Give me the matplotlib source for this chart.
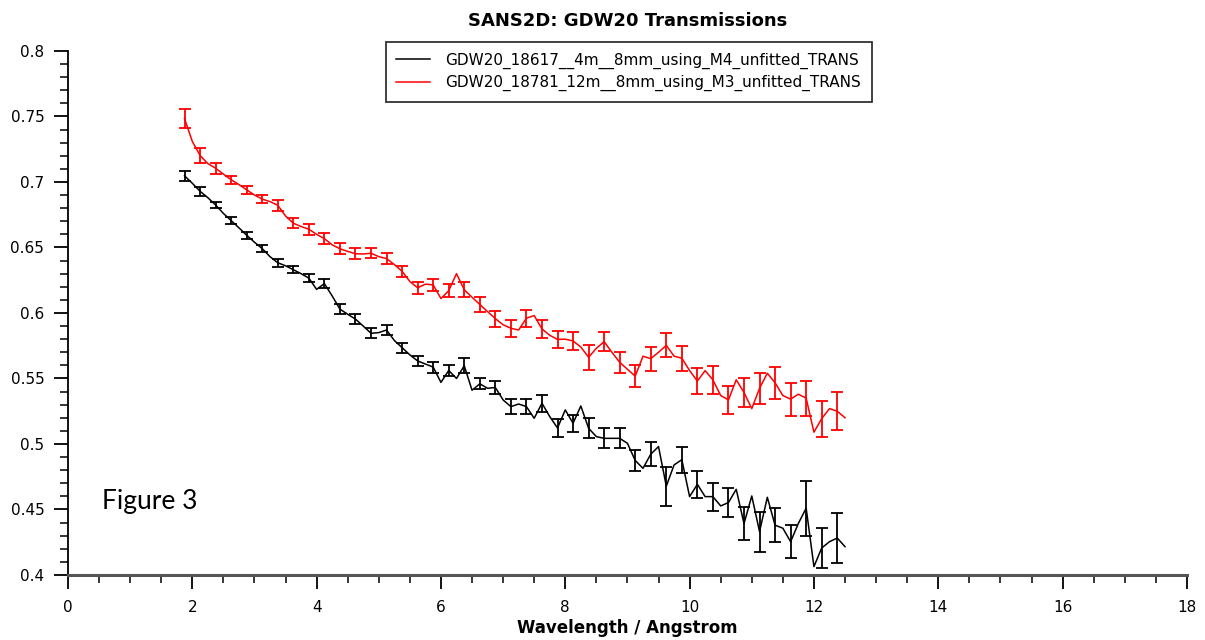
import matplotlib
matplotlib.use("Agg")
import matplotlib.pyplot as plt
from matplotlib.ticker import MultipleLocator, FormatStrFormatter

# bin centres where error bars are drawn (Angstrom)
wl = [1.875, 2.125, 2.375, 2.625, 2.875, 3.125, 3.375, 3.625, 3.875, 4.125,
      4.375, 4.625, 4.875, 5.125, 5.375, 5.625, 5.875, 6.125, 6.375, 6.625,
      6.875, 7.125, 7.375, 7.625, 7.875, 8.125, 8.375, 8.625, 8.875, 9.125,
      9.375, 9.625, 9.875, 10.125, 10.375, 10.625, 10.875, 11.125, 11.375,
      11.625, 11.875, 12.125, 12.375]
# in-between points of the curve
wl_mid = [2.0, 2.25, 2.5, 2.75, 3.0, 3.25, 3.5, 3.75, 4.0, 4.25, 4.5, 4.75,
          5.0, 5.25, 5.5, 5.75, 6.0, 6.25, 6.5, 6.75, 7.0, 7.25, 7.5, 7.75,
          8.0, 8.25, 8.5, 8.75, 9.0, 9.25, 9.5, 9.75, 10.0, 10.25, 10.5, 10.75,
          11.0, 11.25, 11.5, 11.75, 12.0, 12.25, 12.5]

black_T = [0.7047, 0.6929, 0.6824, 0.6705, 0.6593, 0.6491, 0.6383, 0.633, 0.6266,
           0.6224, 0.6029, 0.5953, 0.5845, 0.587, 0.5735, 0.5634, 0.5587, 0.5561,
           0.5597, 0.5459, 0.5431, 0.5285, 0.5285, 0.5311, 0.5122, 0.5158, 0.512,
           0.5043, 0.5043, 0.4874, 0.4922, 0.4678, 0.488, 0.4692, 0.4598, 0.4553,
           0.4392, 0.4331, 0.438, 0.4254, 0.451, 0.4206, 0.4282]
black_err = [0.0037, 0.0036, 0.0025, 0.0025, 0.0028, 0.0028, 0.0029, 0.0028, 0.0032,
             0.0036, 0.0037, 0.0037, 0.0038, 0.0038, 0.0038, 0.0038, 0.0042, 0.0042,
             0.0057, 0.0042, 0.005, 0.0056, 0.0056, 0.0064, 0.0066, 0.0064, 0.0076,
             0.0076, 0.0076, 0.008, 0.009, 0.015, 0.0099, 0.0102, 0.0107, 0.0113,
             0.0125, 0.0153, 0.013, 0.0127, 0.021, 0.015, 0.0193]
black_mid = [0.699, 0.688, 0.676, 0.665, 0.654, 0.643, 0.636, 0.630, 0.618, 0.613,
             0.599, 0.590, 0.585, 0.579, 0.568, 0.561, 0.547, 0.550, 0.541, 0.5425,
             0.5336, 0.5305, 0.5196, 0.5209, 0.526, 0.529, 0.5056, 0.5043, 0.5005,
             0.4814, 0.498, 0.484, 0.4598, 0.4598, 0.4527, 0.4654, 0.4603, 0.4593,
             0.4357, 0.4394, 0.4064, 0.4254, 0.4216]

red_T = [0.7483, 0.7202, 0.7105, 0.7017, 0.694, 0.6869, 0.6822, 0.6685, 0.6639,
         0.6567, 0.649, 0.6452, 0.6456, 0.6415, 0.6318, 0.6192, 0.6214, 0.617,
         0.6177, 0.6065, 0.5957, 0.5883, 0.596, 0.5878, 0.5798, 0.5786, 0.5662,
         0.5781, 0.5624, 0.5518, 0.5651, 0.5753, 0.5655, 0.548, 0.5489, 0.5336,
         0.5393, 0.5425, 0.5467, 0.5342, 0.5349, 0.5193, 0.525]
red_err = [0.0074, 0.0055, 0.0043, 0.0032, 0.0032, 0.0032, 0.0041, 0.0038, 0.0043,
           0.0041, 0.0042, 0.0042, 0.0038, 0.0041, 0.0041, 0.0047, 0.0043, 0.005,
           0.0057, 0.0055, 0.0061, 0.0064, 0.0064, 0.007, 0.0067, 0.0067, 0.0095,
           0.0071, 0.008, 0.0085, 0.0092, 0.0092, 0.0095, 0.0098, 0.0107, 0.0107,
           0.0113, 0.012, 0.0123, 0.0126, 0.0132, 0.0137, 0.0143]
red_mid = [0.731, 0.714, 0.706, 0.698, 0.690, 0.685, 0.674, 0.666, 0.660, 0.652,
           0.647, 0.645, 0.643, 0.637, 0.624, 0.622, 0.611, 0.630, 0.612, 0.601,
           0.591, 0.587, 0.598, 0.583, 0.580, 0.574, 0.573, 0.570, 0.557, 0.567,
           0.570, 0.567, 0.556, 0.556, 0.537, 0.549, 0.527, 0.554, 0.537, 0.538,
           0.509, 0.527, 0.520]

labels = ["GDW20_18617__4m__8mm_using_M4_unfitted_TRANS",
          "GDW20_18781_12m__8mm_using_M3_unfitted_TRANS"]


def curve(xs, ys, xm, ym):
    # interleave bin centres with the in-between points
    px, py = [], []
    for a, b, c, d in zip(xs, ys, xm, ym):
        px += [a, c]
        py += [b, d]
    return px, py


fig = plt.figure(figsize=(12.05, 6.4), dpi=100)
ax = fig.add_axes([0.0564, 0.1016, 0.9286, 0.8188])

for T, err, mid, col, lab in [(black_T, black_err, black_mid, "black", labels[0]),
                              (red_T, red_err, red_mid, "#ff0000", labels[1])]:
    lx, ly = curve(wl, T, wl_mid, mid)
    ax.plot(lx, ly, color=col, lw=1.1, label=lab)
    ax.errorbar(wl, T, yerr=err, fmt="none", ecolor=col, elinewidth=1.3,
                capsize=4.5, capthick=1.3)

ax.set_xlim(0, 18)
ax.set_ylim(0.4, 0.8)
ax.xaxis.set_major_locator(MultipleLocator(2))
ax.xaxis.set_minor_locator(MultipleLocator(0.5))
ax.yaxis.set_major_locator(MultipleLocator(0.05))
ax.yaxis.set_minor_locator(MultipleLocator(0.01))
ax.yaxis.set_major_formatter(FormatStrFormatter("%g"))

for s in ["top", "right"]:
    ax.spines[s].set_visible(False)
ax.spines["left"].set_linewidth(1.3)
ax.spines["bottom"].set_linewidth(2.2)
ax.spines["bottom"].set_color("#555555")
ax.tick_params(which="major", length=10, width=1.3, labelsize=11)
ax.tick_params(which="minor", length=5.5, width=1.1)
ax.tick_params(axis="x", pad=8)
ax.tick_params(axis="y", pad=7)

ax.set_title("SANS2D: GDW20 Transmissions", fontsize=13, fontweight="bold", pad=18)
ax.set_xlabel("Wavelength / Angstrom", fontsize=12, fontweight="bold", labelpad=3)

leg = ax.legend(loc="upper center", bbox_to_anchor=(0.501, 1.017), fontsize=11,
                frameon=True, fancybox=False, borderpad=0.7, borderaxespad=0,
                handlelength=2.2, handletextpad=1.0, labelspacing=0.4)
leg.get_frame().set_edgecolor("black")
leg.get_frame().set_linewidth(1.3)

fig.text(0.085, 0.205, "Figure 3", fontsize=19, family=["Lato", "DejaVu Sans"])

fig.savefig("out.png", dpi=100)
